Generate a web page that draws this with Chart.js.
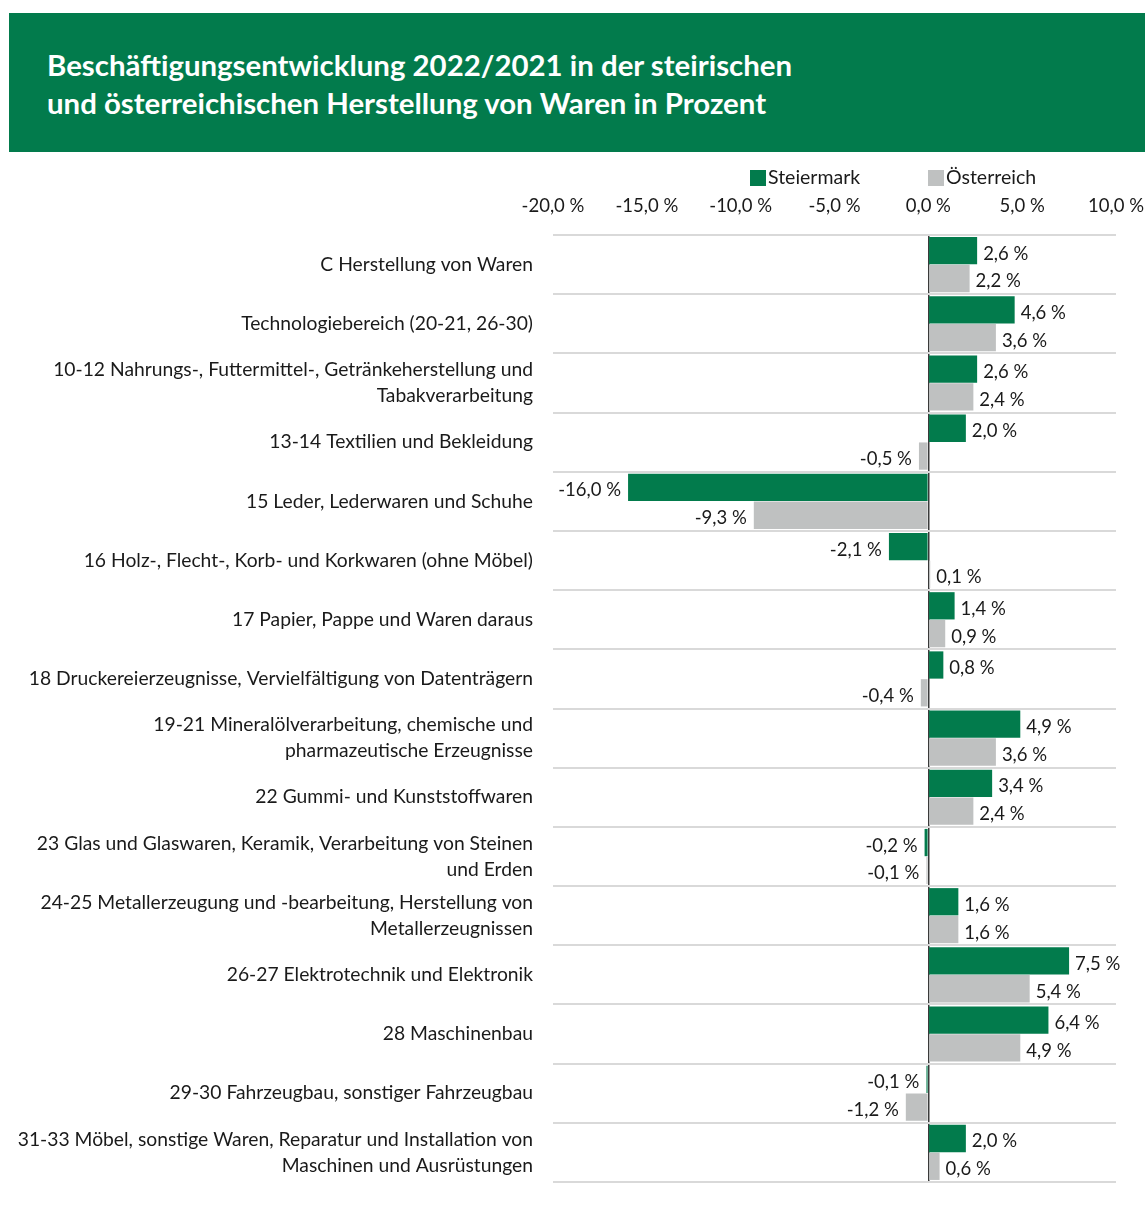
<!DOCTYPE html>
<html lang="de">
<head>
<meta charset="utf-8">
<title>Beschäftigungsentwicklung 2022/2021</title>
<script src="https://cdn.jsdelivr.net/npm/chart.js@4/dist/chart.umd.min.js"></script>
<style>
  html, body { margin: 0; padding: 0; background: #fff; }
  body { width: 1145px; height: 1207px; position: relative; overflow: hidden; font-family: Lato, "Noto Sans", sans-serif; }
  .kopf {
    position: absolute; left: 9px; top: 13px; width: 1136px; height: 139px;
    background: #027b4c; color: #fff; box-sizing: border-box;
  }
  .kopf h1 {
    margin: 0; position: absolute; left: 38px; top: 33px;
    font-family: Lato, sans-serif; font-weight: bold; font-size: 29.4px; line-height: 38px;
  }
  .flaeche { position: absolute; left: 0; top: 152px; width: 1145px; height: 1055px; }
</style>
</head>
<body>
<div class="kopf">
  <h1>Beschäftigungsentwicklung 2022/2021 in der steirischen<br>und österreichischen Herstellung von Waren in Prozent</h1>
</div>
<div class="flaeche"><canvas id="grafik"></canvas></div>

<script>
const kategorien = [
    'C Herstellung von Waren',
    'Technologiebereich (20-21, 26-30)',
    ['10-12 Nahrungs-, Futtermittel-, Getränkeherstellung und', 'Tabakverarbeitung'],
    '13-14 Textilien und Bekleidung',
    '15 Leder, Lederwaren und Schuhe',
    '16 Holz-, Flecht-, Korb- und Korkwaren (ohne Möbel)',
    '17 Papier, Pappe und Waren daraus',
    '18 Druckereierzeugnisse, Vervielfältigung von Datenträgern',
    ['19-21 Mineralölverarbeitung, chemische und', 'pharmazeutische Erzeugnisse'],
    '22 Gummi- und Kunststoffwaren',
    ['23 Glas und Glaswaren, Keramik, Verarbeitung von Steinen', 'und Erden'],
    ['24-25 Metallerzeugung und -bearbeitung, Herstellung von', 'Metallerzeugnissen'],
    '26-27 Elektrotechnik und Elektronik',
    '28 Maschinenbau',
    '29-30 Fahrzeugbau, sonstiger Fahrzeugbau',
    ['31-33 Möbel, sonstige Waren, Reparatur und Installation von', 'Maschinen und Ausrüstungen']
];
const steiermark = [2.6, 4.6, 2.6, 2.0, -16.0, -2.1, 1.4, 0.8, 4.9, 3.4, -0.2, 1.6, 7.5, 6.4, -0.1, 2.0];
const oesterreich = [2.2, 3.6, 2.4, -0.5, -9.3, 0.1, 0.9, -0.4, 3.6, 2.4, -0.1, 1.6, 5.4, 4.9, -1.2, 0.6];
const achseMin = -20;
const achseMax = 10;
const achseSchritt = 5;

const gruen = '#027b4c';
const grau = '#bfc1c1';
const textfarbe = '#1a1a1a';
const schrift = 'Lato, "Noto Sans", sans-serif';

function prozent(v) {
    return v.toFixed(1).replace('.', ',') + ' %';
}

// Werte neben die Balken schreiben
const wertBeschriftung = {
    id: 'wertBeschriftung',
    afterDatasetsDraw(chart) {
        const ctx = chart.ctx;
        const x0 = chart.scales.x.getPixelForValue(0);
        ctx.save();
        ctx.font = '18.5px ' + schrift;
        ctx.fillStyle = textfarbe;
        ctx.textBaseline = 'middle';
        chart.data.datasets.forEach((ds, i) => {
            chart.getDatasetMeta(i).data.forEach((bar, j) => {
                const v = ds.data[j];
                if (v >= 0) {
                    ctx.textAlign = 'left';
                    ctx.fillText(prozent(v), Math.max(bar.x, x0 + 2) + 6, bar.y + 3);
                } else {
                    ctx.textAlign = 'right';
                    ctx.fillText(prozent(v), Math.min(bar.x, x0 - 2) - 7, bar.y + 3);
                }
            });
        });
        ctx.restore();
    }
};

// eigene Legende oberhalb der Achsenbeschriftung
const legende = {
    id: 'legende',
    afterDraw(chart) {
        const ctx = chart.ctx;
        const rechts = chart.chartArea.right;
        const starts = [rechts - 366, rechts - 188];
        ctx.save();
        ctx.font = '19.5px ' + schrift;
        ctx.textBaseline = 'middle';
        ctx.textAlign = 'left';
        chart.data.datasets.forEach((ds, i) => {
            ctx.fillStyle = ds.backgroundColor;
            ctx.fillRect(starts[i], 18, 16, 16);
            ctx.fillStyle = textfarbe;
            ctx.fillText(ds.label, starts[i] + 18, 26);
        });
        ctx.restore();
    }
};

new Chart(document.getElementById('grafik'), {
    type: 'bar',
    data: {
        labels: kategorien,
        datasets: [
            { label: 'Steiermark', data: steiermark, backgroundColor: gruen },
            { label: 'Österreich', data: oesterreich, backgroundColor: grau }
        ]
    },
    options: {
        indexAxis: 'y',
        responsive: true,
        maintainAspectRatio: false,
        animation: false,
        categoryPercentage: 0.94,
        barPercentage: 0.98,
        layout: { padding: { top: 43, bottom: 25, left: 0, right: 0 } },
        plugins: {
            legend: { display: false },
            tooltip: { enabled: false }
        },
        scales: {
            x: {
                position: 'top',
                min: achseMin,
                max: achseMax,
                ticks: {
                    stepSize: achseSchritt,
                    color: textfarbe,
                    font: { family: schrift, size: 18.5 },
                    padding: 18,
                    maxRotation: 0,
                    callback: v => prozent(v)
                },
                grid: {
                    drawTicks: false,
                    color: c => c.tick && c.tick.value === 0 ? '#3a3a3a' : 'rgba(0,0,0,0)',
                    lineWidth: 1.5
                },
                border: { display: false },
                afterFit: s => {
                    s.height = 40;
                    s.paddingLeft = 0;
                    s.paddingRight = 29;
                }
            },
            y: {
                ticks: {
                    color: textfarbe,
                    font: { family: schrift, size: 19.3, lineHeight: 1.35 },
                    padding: 20,
                    autoSkip: false
                },
                grid: {
                    drawTicks: false,
                    color: '#d9d9d9',
                    lineWidth: 2
                },
                border: { display: false },
                afterFit: s => {
                    s.width = 553;
                    s.paddingTop = 0;
                    s.paddingBottom = 0;
                }
            }
        }
    },
    plugins: [wertBeschriftung, legende]
});
</script>
</body>
</html>
